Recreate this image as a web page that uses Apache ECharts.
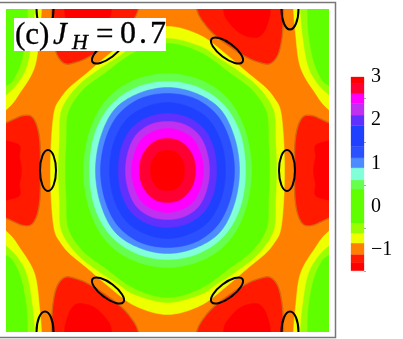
<!DOCTYPE html>
<html><head><meta charset="utf-8">
<style>html,body{margin:0;padding:0;background:#fff}#c{width:403px;height:339px}</style>
<script src="https://cdn.jsdelivr.net/npm/echarts@6/dist/echarts.min.js"></script>
</head><body><div id="c"></div>
<script>
// colour scale: band lower/upper edges and colours
const bandEdges = [-1.48,-1.3,-1.1,-0.84,-0.61,-0.38,0.41,0.62,0.9,1.13,1.39,1.88,2.12,2.38,2.61,2.84,3];
const bandColors = ['#ff0000','#ff1a00','#ff8000','#eeff00','#99ff00','#60ff00','#66ff4d','#80ffd9','#4d8cff','#2a50ff','#2040ff','#6030ff','#c030f0','#ff00ff','#ff0033','#ff0000'];
const tickValues = [-1,0,1,2,3];
const minorTickValues = [-1.5,-0.5,0.5,1.5,2.5];

// contour outlines (one quadrant, axis units)
const ringYellow = [[117,0],[116,33],[113,60],[107,72],[98,83],[81,97],[60,115],[33,135],[0,144]];
const ringYellowGreen = [[109,0],[108,30],[106,60],[91,83],[70,100],[50,113],[33,124],[0,132]];
const ringGreen = [[102,0],[101,30],[99,58],[85,80],[63,97],[33,118],[0,127]];
const ringLightGreen = [[84,0],[78,39],[61,71],[34,90],[0,97]];
const ringAqua = [[78,0],[73,36],[57,65],[31,83],[0,89]];
const ringLightBlue = [[72,0],[67,33],[53,61],[29,77],[0,83]];
const ringBlue = [[67,0],[62,31],[49,56],[27,72],[0,77]];
const ringBlue2 = [[58,0],[54,27],[42,50],[23,63],[0,68]];
const ringViolet = [[49,0],[46,23],[36,42],[20,53],[0,57]];
const ringPurple = [[42,0],[39,20],[31,36],[17,46],[0,49]];
const ringMagenta = [[36,0],[33,17],[26,31],[14,39],[0,42]];
const ringCrimson = [[28,0],[26,13],[20,23],[11,30],[0,32]];
const ringRed = [[17,0],[16,8],[12,15],[7,19],[0,20]];
const cornerYellow = [[125,190],[126,161],[128,137],[133,103],[148,77],[161,61],[190,40],[190,190]];
const cornerYellowGreen = [[132,190],[133,161],[135,137],[140,107],[148,90],[161,76],[190,55],[190,190]];
const cornerGreen = [[139,190],[140,161],[141,137],[146,110],[153,93],[161,85],[190,70],[190,190]];
const sideRed = [[127,0],[128,33],[134,52],[144,55],[161,48],[190,36]];
const sideDeep = [[146,0],[148,13],[151,27],[190,27]];
const topRed = [[116,185],[116,162],[115,137],[111,117],[103,107],[92,108],[76,115],[50,133],[36,148],[29,162],[27,185]];
const topDeep = [[56,185],[56,161],[60,150],[73,137],[88,133],[96,138],[101,150],[103,161],[103,185]];

// black ellipses: centre x, centre y, semi axes, rotation in degrees
const ellipseX = [-119.5,119.5,-122.5,122.5,-122.5,122.5,-59.5,59.5,-59.5,59.5];
const ellipseY = [0,0,161.5,161.5,-161.5,-161.5,120,120,-120,-120];
const ellipseA = [8,8,8.5,8.5,8.5,8.5,19.3,19.3,19.3,19.3];
const ellipseB = [20.5,20.5,20.5,20.5,20.5,20.5,7.5,7.5,7.5,7.5];
const ellipseRot = [0,0,0,0,0,0,37,-37,-37,37];

const refl = (p,sx,sy)=>p.map(q=>[q[0]*sx,q[1]*sy]);
function ring(p){
  const a=p, b=refl(p,-1,1).reverse().slice(1), c=refl(p,-1,-1).slice(1), d=refl(p,1,-1).reverse().slice(1,-1);
  return [a.concat(b,c,d)];
}
function side(p){
  const full=p.concat(refl(p,1,-1).reverse().slice(0,-1));
  return [full, refl(full,-1,1)];
}
function corner(p){ return [p,refl(p,-1,1),refl(p,1,-1),refl(p,-1,-1)]; }
// smooth closed outline through the read points (drawing only)
function spline(p){
  const out=[],n=p.length,steps=10;
  for(let i=0;i<n;i++){
    const a=p[(i+n-1)%n],b=p[i],c=p[(i+1)%n],d=p[(i+2)%n];
    for(let k=0;k<steps;k++){
      const t=k/steps,t2=t*t,t3=t2*t;
      out.push([0,1].map(j=>0.5*(2*b[j]+(c[j]-a[j])*t+(2*a[j]-5*b[j]+4*c[j]-d[j])*t2+(3*b[j]-a[j]-3*c[j]+d[j])*t3)));
    }
  }
  return out;
}
const brown='#d8660e';
const layers = [
  [corner(cornerYellow),bandColors[3]],[corner(cornerYellowGreen),bandColors[4]],[corner(cornerGreen),bandColors[5]],
  [ring(ringYellow),bandColors[3]],[ring(ringYellowGreen),bandColors[4]],[ring(ringGreen),bandColors[5]],
  [ring(ringLightGreen),bandColors[6]],[ring(ringAqua),bandColors[7]],[ring(ringLightBlue),bandColors[8]],
  [ring(ringBlue),bandColors[9]],[ring(ringBlue2),bandColors[10]],[ring(ringViolet),bandColors[11]],
  [ring(ringPurple),bandColors[12]],[ring(ringMagenta),bandColors[13]],[ring(ringCrimson),bandColors[14]],[ring(ringRed),bandColors[15]],
  [side(sideRed),bandColors[1],brown],[side(sideDeep),bandColors[0]],
  [corner(topRed),bandColors[1],brown],[corner(topDeep),bandColors[0]]
];
const shapes=[];
layers.forEach(l=>l[0].forEach(pts=>shapes.push({pts:spline(pts),color:l[1],stroke:l[2]})));

const serif='"Liberation Serif","Times New Roman",serif';
const txt=(text,x,base,size,italic)=>({type:'text',z:101,x,y:base-Math.round(size*0.78),style:{text,fill:'#000',stroke:'#000',lineWidth:0.35,font:(italic?'italic ':'')+size+'px '+serif}});

const chart=echarts.init(document.getElementById('c'));
chart.setOption({
  animation:false,
  backgroundColor:'#fff',
  grid:[
    {left:6,top:9,width:323,height:323,show:true,backgroundColor:bandColors[2],borderWidth:0},
    {left:351,top:77,width:13,height:194.6,show:false}
  ],
  xAxis:[
    {gridIndex:0,type:'value',min:-161.5,max:161.5,show:false},
    {gridIndex:1,type:'value',min:0,max:1,show:false}
  ],
  yAxis:[
    {gridIndex:0,type:'value',min:-161.5,max:161.5,show:false},
    {gridIndex:1,type:'value',min:-1.5,max:3,position:'right',splitLine:{show:false},axisLine:{show:false},
      axisTick:{show:true,length:4,customValues:tickValues,lineStyle:{color:'#555',width:1}},
      axisLabel:{show:true,customValues:tickValues,margin:7,color:'#000',fontFamily:'Liberation Serif',fontSize:20,
        formatter:v=>v<0?'\u2212'+Math.abs(v):String(v)}},
    {gridIndex:1,type:'value',min:-1.5,max:3,position:'right',splitLine:{show:false},axisLine:{show:false},
      axisTick:{show:true,length:2,customValues:minorTickValues,lineStyle:{color:'#aaa',width:1}},
      axisLabel:{show:false}}
  ],
  series:[
    {type:'custom',xAxisIndex:0,yAxisIndex:0,clip:true,silent:true,data:shapes.map((s,i)=>[0,0,i]),
      renderItem(params,api){
        const s=shapes[params.dataIndex];
        return {type:'polygon',shape:{points:s.pts.map(p=>api.coord(p))},
          style:{fill:s.color,stroke:s.stroke||s.color,lineWidth:s.stroke?1.4:0.5}};
      }},
    {type:'custom',xAxisIndex:0,yAxisIndex:0,clip:true,silent:true,data:ellipseX.map((x,i)=>[x,ellipseY[i],i]),z:5,
      renderItem(params,api){
        const i=params.dataIndex, c=api.coord([ellipseX[i],ellipseY[i]]);
        return {type:'ellipse',x:c[0],y:c[1],rotation:ellipseRot[i]*Math.PI/180,
          shape:{cx:0,cy:0,rx:ellipseA[i],ry:ellipseB[i]},
          style:{fill:null,stroke:'#000',lineWidth:2}};
      }},
    {type:'custom',xAxisIndex:1,yAxisIndex:1,silent:true,data:bandColors.map((c,i)=>[0,bandEdges[i],i]),
      renderItem(params,api){
        const i=params.dataIndex, a=api.coord([0,bandEdges[i+1]]), b=api.coord([1,bandEdges[i]]);
        return {type:'rect',shape:{x:a[0],y:a[1],width:b[0]-a[0],height:b[1]-a[1]},
          style:{fill:bandColors[i],stroke:bandColors[i],lineWidth:0.3}};
      }}
  ],
  graphic:[
    {type:'polyline',z:100,shape:{points:[[0,2.5],[335.5,2.5],[335.5,337.5],[0,337.5]]},style:{fill:null,stroke:'#777',lineWidth:1.5}},
    {type:'rect',z:100,shape:{x:14,y:18,width:152,height:33},style:{fill:'#fff'}},
    txt('(c)',15,44,31,false),
    txt('J',53,44,31,true),
    txt('H',72,49,22,true),
    txt('=',96,44,31,false),
    txt('0',120,44,32,false),
    txt('.',139,44,32,false),
    txt('7',150,44,32,false)
  ]
});
</script></body></html>
